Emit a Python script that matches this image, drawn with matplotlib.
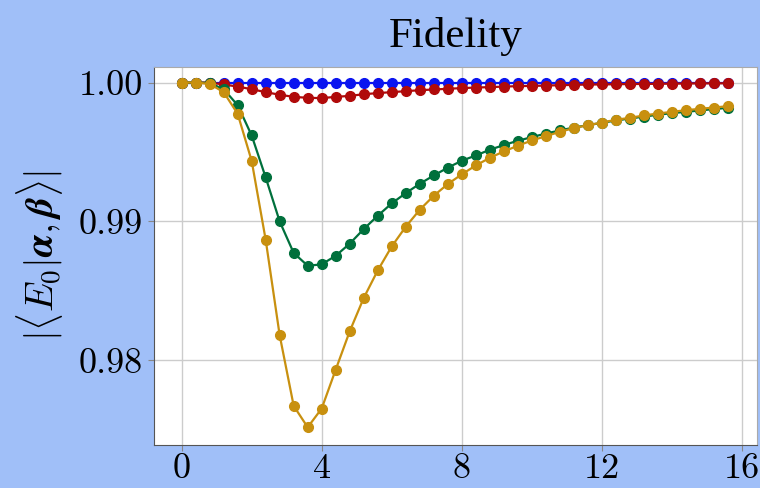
import numpy as np
import matplotlib
matplotlib.use('Agg')
import matplotlib.pyplot as plt

# 데이터
x = [round(0.4 * k, 1) for k in range(40)]

blue = [1.0] * 40

red = [1.0, 1.0, 1.0, 0.99986, 0.99971, 0.99952, 0.99931, 0.99912, 0.99897, 0.99890,
       0.99888, 0.99897, 0.99904, 0.99916, 0.99924, 0.99931, 0.99938, 0.99945, 0.99950, 0.99955,
       0.99960, 0.99964, 0.99967, 0.99971, 0.99974, 0.99976, 0.99978, 0.99981, 0.99983, 0.99986,
       0.99986, 0.99988, 0.99989, 0.99990, 0.99991, 0.99992, 0.99993, 0.99994, 0.99994, 0.99995]

green = [1.0, 1.0, 0.99997, 0.99952, 0.99837, 0.99619, 0.99317, 0.99000, 0.98773, 0.98681,
         0.98691, 0.98753, 0.98840, 0.98945, 0.99041, 0.99130, 0.99204, 0.99271, 0.99331, 0.99387,
         0.99437, 0.99475, 0.99516, 0.99550, 0.99581, 0.99607, 0.99633, 0.99655, 0.99676, 0.99693,
         0.99710, 0.99727, 0.99741, 0.99755, 0.99768, 0.99780, 0.99789, 0.99799, 0.99809, 0.99818]

gold = [1.0, 1.0, 0.99990, 0.99931, 0.99775, 0.99436, 0.98868, 0.98180, 0.97672, 0.97518,
        0.97653, 0.97933, 0.98209, 0.98449, 0.98647, 0.98820, 0.98962, 0.99084, 0.99185, 0.99269,
        0.99339, 0.99403, 0.99458, 0.99504, 0.99545, 0.99583, 0.99614, 0.99645, 0.99672, 0.99693,
        0.99712, 0.99732, 0.99746, 0.99763, 0.99777, 0.99789, 0.99801, 0.99811, 0.99820, 0.99830]

series = [(blue, '#0a14f0'), (red, '#b00a0a'), (green, '#00703c'), (gold, '#c8900f')]

xticks = [0, 4, 8, 12, 16]
yticks = [0.98, 0.99, 1.00]
yticklabels = ['0.98', '0.99', '1.00']

# 폰트 설정
plt.rcParams['font.family'] = 'serif'
plt.rcParams['font.serif'] = ['cmr10']
plt.rcParams['mathtext.fontset'] = 'cm'
plt.rcParams['axes.unicode_minus'] = False

bg = '#a0bff8'
fig = plt.figure(figsize=(7.6, 4.88), dpi=100, facecolor=bg)
ax = fig.add_axes([0.2026, 0.088, 0.7934, 0.775])

for ys, c in series:
    ax.plot(x, ys, '-o', color=c, lw=1.6, ms=7, zorder=3)

ax.set_xlim(-0.79, 16.43)
ax.set_ylim(0.9739, 1.00113)
ax.set_xticks(xticks)
ax.set_xticklabels([str(t) for t in xticks])
ax.set_yticks(yticks)
ax.set_yticklabels(yticklabels)
ax.tick_params(labelsize=26, length=4, color='#888888', pad=4)
ax.tick_params(axis='x', pad=2)
ax.grid(True, color='#cccccc', lw=1)
ax.set_axisbelow(True)
for s in ax.spines.values():
    s.set_color('#555555')
ax.spines['top'].set_color('#aaaaaa')
ax.spines['right'].set_color('#aaaaaa')

ax.set_ylabel(r'$|\langle E_0|\boldsymbol{\alpha},\boldsymbol{\beta}\rangle|$', fontsize=28, labelpad=10)
ax.set_title('Fidelity', fontsize=31, family='Liberation Serif', pad=14)

fig.savefig('out.png', dpi=100, facecolor=bg)
